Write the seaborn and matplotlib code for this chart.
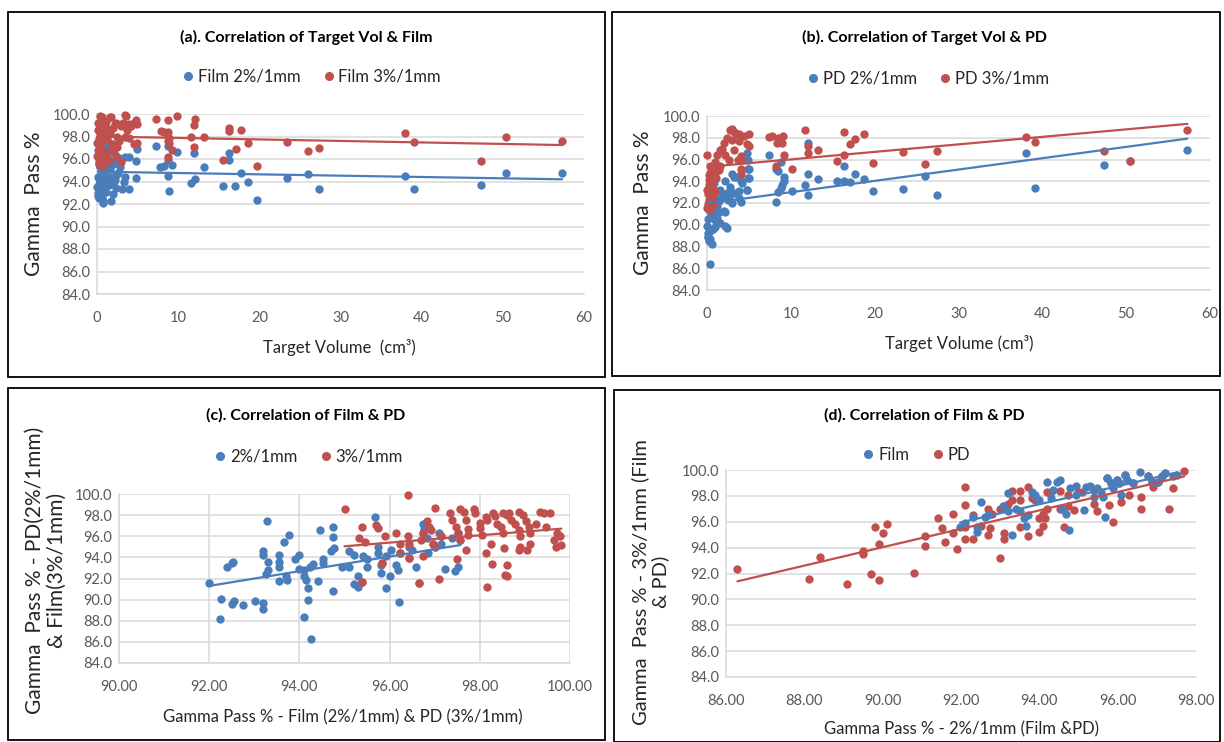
import numpy as np
import matplotlib
matplotlib.use("Agg")
import matplotlib.pyplot as plt
import seaborn as sns
from matplotlib.patches import Rectangle
from matplotlib.lines import Line2D
from matplotlib.ticker import FormatStrFormatter

# ---------------- data ----------------
# (a) target volume vs Film gamma pass rate
a_vol_2 = [7.3, 8.7, 4.9, 9.9, 12.0, 16.3, 16.3, 13.2, 7.8, 8.3,
           9.2, 8.7, 4.8, 3.9, 3.5, 8.8, 11.6, 12.1, 15.5, 17.0,
           17.7, 18.6, 19.7, 23.4, 26.0, 27.4, 37.9, 39.0, 47.3, 50.4,
           57.3, 8.9, 3.9, 3.1, 4.8, 1.7, 0.8,
           2.0, 2.4, 3.4, 2.8, 2.0, 1.0, 0.4, 0.2, 0.6, 1.2,
           0.0, 0.1, 0.1, 0.2, 0.3, 0.3, 0.4, 0.5, 0.5, 0.6,
           0.7, 0.8, 0.9, 1.0, 1.1, 1.2, 1.3, 1.5, 1.6, 1.8,
           2.0, 2.2, 2.4, 2.6, 0.2, 0.4, 0.9, 1.4, 2.7, 3.3,
           0.1, 0.6, 1.9,
           0.1, 0.3, 0.5, 0.7, 1.1, 1.6, 2.1, 0.2, 0.8, 1.3,
           2.3, 0.4]
a_film_2 = [97.2, 97.2, 96.9, 96.6, 96.5, 96.5, 95.9, 95.3, 95.3, 95.4,
            95.5, 95.9, 95.8, 96.2, 96.2, 94.5, 93.9, 94.2, 93.6, 93.6,
            94.8, 94.0, 92.4, 94.3, 94.7, 93.3, 94.5, 93.3, 93.7, 94.8,
            94.8, 93.2, 93.3, 93.3, 94.3, 92.3, 92.1,
            93.8, 94.6, 94.4, 95.3, 95.6, 95.3, 95.3, 93.5, 94.1, 94.5,
            93.5, 93.0, 92.7, 92.5, 93.8, 94.2, 92.9, 93.3, 94.6, 95.0,
            92.3, 93.6, 94.0, 94.8, 93.1, 95.6, 94.3, 93.7, 95.1, 94.4,
            92.9, 94.1, 93.4, 94.8, 95.6, 96.0, 96.3, 96.6, 96.1, 94.0,
            94.4, 92.6, 93.9,
            96.8, 97.3, 96.4, 97.0, 96.8, 97.2, 96.5, 97.6, 95.8, 97.5,
            95.9, 96.9]
a_vol_3 = [9.9, 7.3, 8.7, 12.1, 12.0, 16.3, 16.3, 17.7, 18.6, 17.1,
           15.5, 19.7, 23.4, 26.0, 27.4, 37.9, 39.0, 47.3, 50.4, 57.3,
           11.6, 13.2, 12.0, 7.9, 8.2, 8.6, 8.8, 8.9, 8.7, 8.9,
           9.2, 8.8, 3.6, 4.8, 4.9, 4.2, 3.5, 2.5, 3.0, 4.9,
           1.7, 0.6,
           0.0, 0.0, 0.1, 0.1, 0.2, 0.2, 0.3, 0.4, 0.4, 0.5,
           0.5, 0.6, 0.7, 0.8, 0.8, 0.9, 1.0, 1.1, 1.2, 1.3,
           1.4, 1.6, 1.6, 1.8, 2.0, 2.0, 2.2, 2.4, 2.5, 2.7,
           2.9, 3.2, 3.4, 3.7, 4.0, 4.0, 4.5, 4.6, 1.5, 0.3,
           2.3]
a_film_3 = [99.8, 99.6, 99.5, 99.6, 99.0, 98.8, 98.5, 98.6, 97.4, 96.9,
            95.9, 95.4, 97.5, 96.7, 97.0, 98.3, 97.5, 95.8, 98.0, 97.6,
            98.0, 98.0, 97.1, 98.5, 98.4, 98.2, 98.4, 97.9, 97.6, 97.4,
            96.8, 96.2, 99.8, 99.5, 99.1, 98.9, 98.0, 97.1, 95.7, 97.4,
            99.7, 99.7,
            96.3, 97.4, 98.6, 99.2, 96.8, 95.8, 97.9, 98.3, 99.8, 96.2,
            97.1, 98.9, 95.4, 95.5, 97.7, 98.4, 96.6, 99.3, 97.9, 96.0,
            98.7, 98.3, 99.7, 97.3, 96.8, 98.8, 99.1, 99.2, 98.0, 97.6,
            98.9, 99.2, 99.9, 98.6, 97.9, 99.1, 97.3, 99.2, 95.9, 95.6,
            96.3]

# (b) target volume vs PD gamma pass rate
b_vol_2 = [0.1, 1.0, 2.1, 2.5, 3.0, 3.2, 4.1, 4.1, 4.8, 4.9,
           4.9, 4.9, 4.8, 7.4, 8.2, 8.5, 8.8, 8.2, 8.5, 8.8,
           9.2, 9.2, 9.0, 10.1, 12.1, 12.0, 11.7, 12.1, 13.3, 15.5,
           16.3, 16.3, 17.1, 17.7, 18.7, 19.8, 23.4, 26.0, 27.4, 38.1,
           39.1, 47.3, 50.4, 57.3,
           0.0, 0.2, 0.6, 0.4, 1.6, 2.2, 1.0, 2.0, 1.4, 0.8,
           1.6, 2.2, 2.8, 3.4, 3.2, 2.6, 3.8, 4.2, 4.8, 5.0,
           5.0, 3.8, 3.0, 0.4, 1.2, 1.8, 2.4, 0.8, 0.4, 0.1,
           1.0, 2.4,
           0.1, 0.3, 0.5, 0.2, 0.7, 0.9, 0.3, 0.6, 1.2, 0.1,
           0.4, 1.4, 0.8, 0.2]
b_pd_2 = [89.2, 90.8, 91.2, 92.3, 94.7, 94.4, 94.0, 92.1, 96.6, 96.0,
          95.1, 94.3, 93.2, 96.4, 95.1, 94.9, 95.8, 92.1, 93.0, 93.4,
          94.4, 94.0, 93.7, 93.1, 97.5, 94.7, 93.7, 92.7, 94.2, 94.0,
          94.0, 95.4, 93.9, 94.7, 94.2, 93.1, 93.3, 94.5, 92.7, 96.6,
          93.4, 95.5, 95.9, 96.9,
          89.9, 88.5, 88.2, 86.4, 90.2, 89.9, 91.0, 91.3, 92.2, 92.6,
          93.2, 94.0, 93.5, 94.4, 92.9, 92.5, 92.5, 93.8, 93.2, 95.1,
          94.3, 93.1, 92.0, 91.7, 91.7, 92.6, 92.9, 93.8, 93.2, 88.9,
          89.8, 89.7,
          90.5, 89.4, 90.9, 91.4, 89.6, 90.4, 92.4, 91.9, 90.6, 88.9,
          88.7, 91.2, 91.5, 92.0]
b_vol_3 = [3.0, 3.8, 4.4, 5.0, 5.0, 4.8, 3.7, 4.1, 4.1, 7.4,
           7.8, 8.5, 8.3, 9.0, 9.1, 9.2, 8.2, 10.1, 11.7, 12.1,
           12.1, 13.3, 15.5, 16.3, 16.3, 17.1, 17.7, 18.7, 19.8, 23.4,
           26.0, 27.4, 38.1, 39.1, 47.3, 50.4, 57.3,
           0.0, 0.4, 0.2, 0.0, 0.2, 0.0, 0.4, 0.8, 1.0, 1.2,
           1.6, 2.0, 2.4, 2.8, 2.2, 3.2, 3.6, 3.0, 3.8, 4.0,
           4.0, 2.6, 1.6, 1.0, 0.6, 0.8, 3.2, 1.4, 0.6, 1.8,
           0.1, 0.3, 0.5, 0.2, 0.6, 0.7, 0.9, 0.1, 0.3, 0.5,
           1.1, 0.8, 1.3, 0.4, 0.2, 0.6]
b_pd_3 = [98.8, 98.3, 98.2, 98.3, 97.2, 97.4, 96.0, 96.3, 94.7, 98.1,
          98.2, 98.0, 97.5, 97.5, 98.2, 96.4, 95.4, 95.1, 98.7, 97.2,
          96.6, 96.9, 95.9, 98.5, 96.4, 97.4, 97.9, 98.3, 95.7, 96.7,
          95.6, 96.8, 98.1, 97.6, 96.8, 95.9, 98.7,
          96.4, 95.4, 94.1, 93.2, 92.3, 91.5, 91.4, 92.0, 95.8, 96.4,
          96.9, 97.5, 98.0, 98.7, 96.4, 96.9, 98.3, 97.8, 97.7, 96.0,
          95.1, 96.0, 95.4, 94.8, 93.8, 93.2, 98.5, 95.0, 94.6, 97.0,
          92.8, 93.6, 92.6, 94.6, 94.3, 91.8, 93.0, 91.9, 92.0, 93.4,
          94.3, 94.9, 95.2, 94.8, 93.7, 92.4]

# (c) Film 2%/1mm vs PD 2%/1mm, and PD 3%/1mm vs Film 3%/1mm
c_film_2 = [92.0, 92.26, 92.23, 92.4, 92.5, 92.52, 92.5, 92.56, 92.75, 93.01,
            93.2, 93.2, 93.28, 93.2, 93.2, 93.3, 93.3, 93.25, 93.54, 93.54,
            93.55, 93.55, 93.66, 93.77, 93.7, 93.73, 93.9, 93.99, 93.99, 94.1,
            94.1, 94.14, 94.2, 94.1, 94.2, 94.26, 94.24, 94.3, 94.42, 94.46,
            94.53, 94.53, 94.7, 94.75, 94.75, 94.76, 94.75, 94.94, 95.1, 95.1,
            95.2, 95.2, 95.3, 95.3, 95.4, 95.5, 95.5, 95.67, 95.74, 95.75,
            95.8, 95.82, 95.93, 96.0, 95.93, 96.04, 96.14, 96.19, 96.2, 96.44,
            96.49, 96.58, 96.75, 96.77, 96.83, 96.86, 97.1, 97.15, 97.22, 97.44,
            97.52, 97.39,
            97.14, 97.52, 97.57, 97.0, 96.96, 96.75]
c_pd_2 = [91.56, 90.1, 88.2, 93.1, 93.5, 93.6, 89.6, 89.9, 89.5, 89.9,
          89.7, 89.1, 97.45, 94.6, 94.2, 93.6, 92.8, 92.4, 94.2, 93.6,
          93.1, 91.8, 95.5, 96.1, 92.2, 91.9, 93.8, 94.2, 92.9, 92.8,
          92.2, 91.9, 91.1, 88.4, 90.0, 86.3, 93.1, 93.4, 91.8, 96.6,
          93.8, 93.5, 94.6, 96.9, 95.9, 94.9, 90.8, 93.1, 94.6, 93.1,
          94.2, 91.5, 91.2, 92.2, 94.1, 93.8, 93.1, 97.8, 95.0, 94.4,
          93.3, 92.5, 94.1, 92.2, 91.1, 94.7, 93.3, 92.8, 89.8, 95.0,
          94.7, 93.1, 97.2, 96.7, 95.8, 94.4, 96.3, 95.3, 92.9, 92.7,
          93.1, 95.8,
          96.0, 96.3, 95.65, 95.0, 95.3, 96.3]
c_pd_3 = [95.0, 95.32, 95.39, 95.39, 95.45, 95.7, 95.74, 95.84, 95.9, 96.15,
          96.23, 96.23, 96.4, 96.43, 96.4, 96.44, 96.66, 96.7, 96.75, 96.75,
          96.83, 96.88, 96.92, 96.96, 97.0, 97.0, 97.1, 97.14, 97.35, 97.39,
          97.48, 97.52, 97.57, 97.5, 97.57, 97.65, 97.7, 97.7, 97.74, 97.74,
          97.87, 97.9, 98.0, 98.0, 98.04, 98.13, 98.17, 98.13, 98.17, 98.24,
          98.27, 98.3, 98.34, 98.39, 98.47, 98.52, 98.52, 98.6, 98.53, 98.56,
          98.6, 98.6, 98.65, 98.69, 98.79, 98.86, 98.9, 98.86, 98.95, 98.86,
          98.9, 99.03, 99.08, 99.12, 99.12, 99.05, 99.25, 99.34, 99.42, 99.47,
          99.55, 99.64, 99.68, 99.72, 99.77, 99.81,
          95.39, 95.84, 96.44, 96.66, 96.23]
c_film_3 = [98.6, 95.8, 96.9, 91.65, 95.5, 97.1, 96.8, 93.5, 96.0, 96.3,
            94.4, 95.3, 96.0, 95.3, 99.9, 93.9, 91.6, 95.65, 96.3, 94.1,
            97.4, 96.9, 96.6, 95.3, 95.0, 98.7, 92.0, 96.0, 98.2, 97.5,
            96.9, 96.3, 95.65, 93.8, 98.6, 98.3, 94.7, 97.5, 96.7, 96.1,
            98.6, 98.2, 97.3, 96.75, 96.1, 97.8, 97.5, 94.4, 91.2, 95.3,
            93.4, 98.2, 97.9, 97.2, 96.9, 96.3, 98.2, 98.0, 94.9, 92.35,
            92.2, 93.3, 98.2, 97.5, 97.2, 96.6, 96.0, 98.3, 98.0, 94.7,
            95.0, 97.4, 96.9, 96.3, 95.3, 94.7, 97.2, 98.3, 98.2, 96.9,
            98.2, 95.65, 95.0, 96.3, 96.0, 95.2,
            91.65, 93.5, 93.9, 91.6, 94.4]

# (d) 2%/1mm vs 3%/1mm for Film and for PD
d_film_2 = [91.98, 92.1, 92.3, 92.4, 92.5, 92.4, 92.6, 92.7, 93.08, 93.2,
            93.2, 93.3, 93.4, 93.5, 93.6, 93.65, 93.7, 93.8, 93.9, 94.0,
            94.2, 94.3, 94.34, 94.44, 94.54, 94.59, 94.69, 94.76, 94.79, 94.94,
            94.94, 95.14, 95.19, 95.29, 95.39, 95.48, 95.58, 95.63, 95.68, 95.73,
            95.83, 95.88, 95.98, 96.03, 96.08, 96.18, 96.23, 96.38, 96.58, 96.78,
            96.88, 97.02, 97.12, 97.22, 97.42, 97.52]
d_film_3 = [95.6, 95.9, 96.4, 95.6, 97.5, 95.2, 96.4, 96.5, 97.2, 98.2,
            96.8, 95.0, 97.0, 96.8, 96.3, 95.7, 96.5, 98.3, 98.06, 97.7,
            99.1, 97.8, 98.45, 99.1, 99.2, 97.0, 96.6, 95.4, 98.6, 98.8,
            98.06, 96.9, 98.7, 98.8, 97.9, 98.6, 98.3, 97.9, 96.4, 99.35,
            98.97, 98.6, 99.2, 98.97, 98.06, 99.6, 99.2, 98.97, 99.87, 99.5,
            99.1, 99.1, 99.5, 99.74, 99.5, 99.6]
d_pd_2 = [86.29, 88.11, 88.41, 89.1, 89.5, 89.5, 89.7, 89.8, 89.9, 89.9,
          90.0, 90.1, 90.79, 91.09, 91.09, 91.41, 91.51, 91.6, 91.8, 91.8,
          91.9, 92.1, 92.1, 92.1, 92.1, 92.3, 92.3, 92.5, 92.7, 92.73,
          92.7, 92.8, 93.0, 93.0, 93.1, 93.1, 93.1, 93.2, 93.3, 93.3,
          93.5, 93.5, 93.5, 93.7, 93.7, 93.8, 93.9, 94.0, 94.0, 94.1,
          94.1, 94.14, 94.2, 94.3, 94.2, 94.52, 94.52, 94.62, 94.72, 94.72,
          94.89, 94.99, 95.09, 95.39, 95.39, 95.48, 95.78, 95.88, 96.08, 96.28,
          96.6, 96.6, 96.9, 97.3, 97.4, 97.7,
          95.73, 95.83, 95.98, 96.03, 96.18, 96.23, 96.38, 96.78, 96.88, 97.02,
          97.12, 97.22]
d_pd_3 = [92.34, 91.56, 93.24, 91.17, 93.75, 93.47, 92.0, 95.6, 94.25, 91.5,
          95.1, 95.8, 92.05, 94.9, 94.14, 96.3, 95.5, 94.4, 96.6, 95.1,
          93.9, 98.7, 97.3, 95.6, 94.66, 94.7, 96.5, 95.7, 94.97, 95.5,
          96.95, 96.6, 93.2, 97.0, 97.2, 95.1, 94.7, 97.4, 97.7, 98.4,
          98.4, 95.6, 97.7, 98.7, 94.9, 97.8, 97.7, 96.3, 95.2, 96.6,
          95.7, 96.3, 98.3, 98.3, 97.0, 98.4, 97.0, 95.6, 98.06, 97.2,
          96.9, 98.3, 98.3, 98.45, 97.4, 96.8, 97.3, 96.0, 97.5, 98.06,
          97.9, 97.0, 98.7, 97.0, 98.6, 99.9,
          99.35, 98.97, 99.2, 98.97, 99.6, 99.2, 98.97, 99.5, 99.1, 99.1,
          99.5, 99.74]

y_ticks = [84, 86, 88, 90, 92, 94, 96, 98, 100]

# ---------------- styling ----------------
sns.set_theme(style="white")
plt.rcParams["font.family"] = ["Lato", "DejaVu Sans"]

BLUE = "#4A7EBB"
RED = "#C0504D"
GRID = "#D9D9D9"
TICK = "#595959"
INK = "#262626"

W, H = 1224, 742
fig = plt.figure(figsize=(W / 100, H / 100), dpi=100)
fig.patch.set_facecolor("white")


def fx(px):
    return px / W


def fy(py):
    return 1 - py / H


def add_axes_px(x0, y0, x1, y1):
    return fig.add_axes([fx(x0), fy(y1), (x1 - x0) / W, (y1 - y0) / H])


def frame(x0, y0, x1, y1):
    fig.add_artist(Rectangle((fx(x0), fy(y1)), (x1 - x0) / W, (y1 - y0) / H,
                             transform=fig.transFigure, fill=False,
                             edgecolor="black", linewidth=1.3))


def draw_panel(ax, xb, yb, xr, yr, xlim, xticks, xfmt, vgrid=False,
               blue_on_top=False):
    xb, yb, xr, yr = map(np.asarray, (xb, yb, xr, yr))
    zb, zr = (3.2, 3.0) if blue_on_top else (3.0, 3.2)
    sns.scatterplot(x=xb, y=yb, ax=ax, color=BLUE, s=36, linewidth=0,
                    zorder=zb, clip_on=False)
    sns.scatterplot(x=xr, y=yr, ax=ax, color=RED, s=36, linewidth=0,
                    zorder=zr, clip_on=False)
    sns.regplot(x=xb, y=yb, ax=ax, scatter=False, ci=None, color=BLUE,
                line_kws=dict(lw=1.6, zorder=4))
    sns.regplot(x=xr, y=yr, ax=ax, scatter=False, ci=None, color=RED,
                line_kws=dict(lw=1.6, zorder=4))
    ax.set_xlim(*xlim)
    ax.set_ylim(84, 100)
    ax.set_xticks(xticks)
    ax.set_yticks(y_ticks)
    ax.xaxis.set_major_formatter(FormatStrFormatter(xfmt))
    ax.yaxis.set_major_formatter(FormatStrFormatter("%.1f"))
    ax.grid(axis="y", color=GRID, linewidth=1.1)
    if vgrid:
        ax.grid(axis="x", color=GRID, linewidth=1.1)
    ax.set_axisbelow(True)
    for s in ("top", "right"):
        ax.spines[s].set_visible(False)
    for s in ("left", "bottom"):
        ax.spines[s].set_color(GRID)
        ax.spines[s].set_linewidth(1.1)
    ax.tick_params(length=0, labelsize=10.5, colors=TICK, pad=5)
    ax.tick_params(axis="x", pad=12)
    ax.set_xlabel("")
    ax.set_ylabel("")
    ax.set_facecolor("none")


def legend(labels, cx, cy):
    handles = [Line2D([], [], marker="o", ls="", color=c, markersize=5.5)
               for c in (BLUE, RED)]
    fig.legend(handles, labels, loc="center", bbox_to_anchor=(fx(cx), fy(cy)),
               ncol=2, frameon=False, fontsize=12, handletextpad=0.2,
               columnspacing=1.3, handlelength=0.8, labelcolor=INK)


def title(text, cx, cy):
    fig.text(fx(cx), fy(cy), text, ha="center", va="center", fontsize=11.5,
             fontweight="bold", color="black")


def label(text, cx, cy, rot=0, size=12):
    fig.text(fx(cx), fy(cy), text, ha="center", va="center", fontsize=size,
             color=INK, rotation=rot, linespacing=1.15)


# panel frames
frame(8, 12, 605, 377)
frame(612, 12, 1220, 376)
frame(8, 388, 605, 740)
frame(614, 390, 1220, 742)

# (a)
ax_a = add_axes_px(97, 114, 584, 294)
draw_panel(ax_a, a_vol_2, a_film_2, a_vol_3, a_film_3, (0, 60),
           range(0, 61, 10), "%d")
title("(a). Correlation of Target Vol & Film", 306, 37)
legend(["Film 2%/1mm", "Film 3%/1mm"], 311, 77)
label("Target Volume  (cm³)", 339, 347)
label("Gamma  Pass %", 34, 204, rot=90, size=15)

# (b)
ax_b = add_axes_px(707, 116, 1210, 290)
draw_panel(ax_b, b_vol_2, b_pd_2, b_vol_3, b_pd_3, (0, 60),
           range(0, 61, 10), "%d")
title("(b). Correlation of Target Vol & PD", 924, 37)
legend(["PD 2%/1mm", "PD 3%/1mm"], 928, 79)
label("Target Volume (cm³)", 959, 343)
label("Gamma  Pass %", 643, 203, rot=90, size=15)

# (c)
ax_c = add_axes_px(119, 494, 570, 663)
draw_panel(ax_c, c_film_2, c_pd_2, c_pd_3, c_film_3, (90, 100),
           range(90, 101, 2), "%.2f", vgrid=True)
title("(c). Correlation of Film & PD", 306, 415)
legend(["2%/1mm", "3%/1mm"], 308, 457)
label("Gamma Pass % - Film (2%/1mm) & PD (3%/1mm)", 343, 717)
label("Gamma  Pass % - PD(2%/1mm)\n& Film(3%/1mm)", 46, 570, rot=90,
      size=15)

# (d)
ax_d = add_axes_px(726, 470, 1196, 677)
draw_panel(ax_d, d_film_2, d_film_3, d_pd_2, d_pd_3, (86, 98),
           range(86, 99, 2), "%.2f", blue_on_top=True)
title("(d). Correlation of Film & PD", 924, 415)
legend(["Film", "PD"], 916, 455)
label("Gamma Pass % - 2%/1mm (Film &PD)", 961, 729)
label("Gamma  Pass % - 3%/1mm (Film\n& PD)", 650, 582, rot=90, size=14.5)

fig.savefig("out.png", dpi=100, facecolor="white")
